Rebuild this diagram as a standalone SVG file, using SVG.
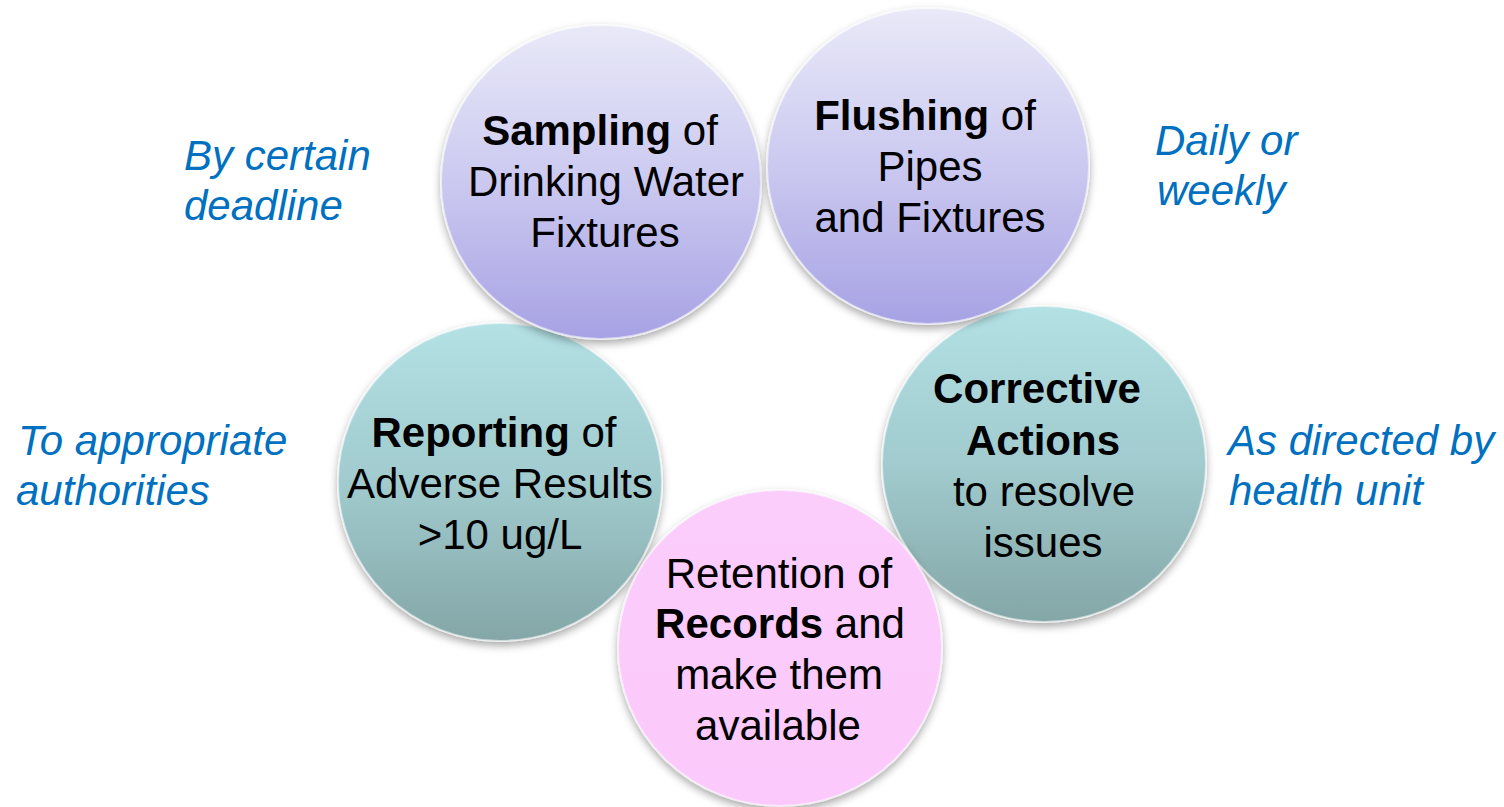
<svg xmlns="http://www.w3.org/2000/svg" width="1504" height="807" viewBox="0 0 1504 807">
<defs>
<linearGradient id="gPurple" x1="0" y1="0" x2="0" y2="1">
<stop offset="0" stop-color="#e9e9f8"/>
<stop offset="0.5" stop-color="#cbc9f0"/>
<stop offset="1" stop-color="#a7a2e4"/>
</linearGradient>
<linearGradient id="gTeal" x1="0" y1="0" x2="0" y2="1">
<stop offset="0" stop-color="#b3e1e4"/>
<stop offset="0.5" stop-color="#a1cbce"/>
<stop offset="1" stop-color="#84a6a7"/>
</linearGradient>
<linearGradient id="gPink" x1="0" y1="0" x2="0" y2="1">
<stop offset="0" stop-color="#fbcdfb"/>
<stop offset="1" stop-color="#fbc9fb"/>
</linearGradient>
<filter id="shadow" x="-20%" y="-20%" width="140%" height="140%">
<feDropShadow dx="0" dy="4" stdDeviation="4" flood-color="#000" flood-opacity="0.35"/>
</filter>
</defs>
<style>
.bub{stroke:#ffffff;stroke-opacity:0.55;stroke-width:2;filter:url(#shadow)}
.t{font-family:"Liberation Sans",Arial,sans-serif;font-size:42px;fill:#000;text-anchor:middle}
.b{font-weight:bold}
.side{font-family:"Liberation Sans",Arial,sans-serif;font-size:42px;font-style:italic;fill:#0070c0}
</style>
<rect width="1504" height="807" fill="#ffffff"/>
<g id="connectors"/>
<g id="reporting">
<ellipse class="bub" cx="500" cy="482" rx="162" ry="159" fill="url(#gTeal)"/>
<text class="t" x="494" y="447"><tspan class="b">Reporting</tspan> of</text>
<text class="t" x="500" y="498">Adverse Results</text>
<text class="t" x="500" y="549">&gt;10 ug/L</text>
</g>
<g id="corrective">
<ellipse class="bub" cx="1044" cy="464" rx="162" ry="158" fill="url(#gTeal)"/>
<text class="t b" x="1037" y="403">Corrective</text>
<text class="t b" x="1043" y="455">Actions</text>
<text class="t" x="1044" y="506">to resolve</text>
<text class="t" x="1043" y="557">issues</text>
</g>
<g id="sampling">
<ellipse class="bub" cx="601" cy="182" rx="160" ry="157" fill="url(#gPurple)"/>
<text class="t" x="600" y="145"><tspan class="b">Sampling</tspan> of</text>
<text class="t" x="606" y="196">Drinking Water</text>
<text class="t" x="605" y="247">Fixtures</text>
</g>
<g id="flushing">
<ellipse class="bub" cx="928" cy="166" rx="161" ry="158" fill="url(#gPurple)"/>
<text class="t" x="925" y="130"><tspan class="b">Flushing</tspan> of</text>
<text class="t" x="930" y="181">Pipes</text>
<text class="t" x="930" y="232">and Fixtures</text>
</g>
<g id="retention">
<ellipse class="bub" cx="780" cy="648" rx="162" ry="158" fill="url(#gPink)"/>
<text class="t" x="779" y="588">Retention of</text>
<text class="t" x="780" y="638"><tspan class="b">Records</tspan> and</text>
<text class="t" x="779" y="689">make them</text>
<text class="t" x="778" y="740">available</text>
</g>
<g id="labels">
<text class="side" x="184" y="170">By certain</text>
<text class="side" x="184" y="220">deadline</text>
<text class="side" x="1155" y="155">Daily or</text>
<text class="side" x="1157" y="205">weekly</text>
<text class="side" x="18" y="455">To appropriate</text>
<text class="side" x="16" y="505">authorities</text>
<text class="side" x="1228" y="455">As directed by</text>
<text class="side" x="1229" y="505">health unit</text>
</g>
</svg>
